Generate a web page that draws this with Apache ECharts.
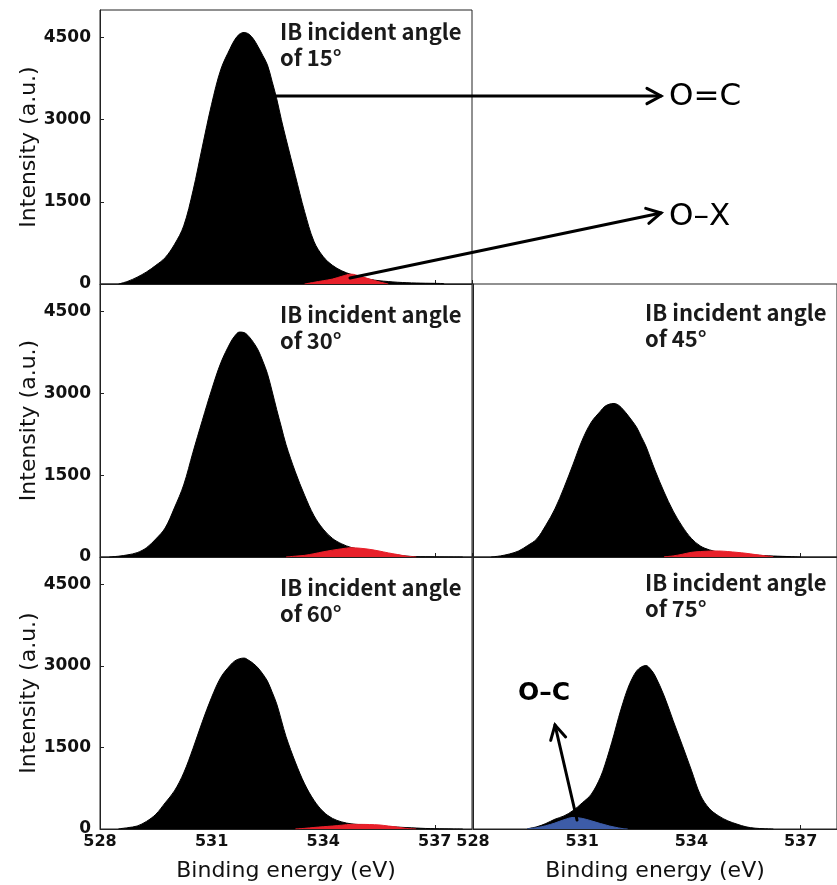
<!DOCTYPE html>
<html>
<head>
<meta charset="utf-8">
<script src="https://cdn.jsdelivr.net/npm/echarts@6/dist/echarts.min.js"></script>
<style>
html,body{margin:0;padding:0;background:#fff;}
#main{width:837px;height:885px;}
</style>
</head>
<body>
<div id="main"></div>
<script>
// Binding energy grid (eV): 0.25 eV steps, 0.125 eV steps around the main peaks
const energy = [528.00, 528.25, 528.50, 528.75, 529.00, 529.25, 529.50, 529.75,
  530.00, 530.25, 530.50, 530.75, 531.00, 531.25,
  531.50, 531.625, 531.75, 531.875, 532.00, 532.125, 532.25, 532.375, 532.50, 532.625, 532.75, 532.875,
  533.00, 533.25, 533.50, 533.75, 534.00, 534.25, 534.50, 534.75, 535.00, 535.25,
  535.50, 535.75, 536.00, 536.25, 536.50, 536.75, 537.00, 537.25, 537.50, 537.75];

// Envelope (O=C dominant) intensities per incident angle
const env15 = [null, null, 0, 50, 125, 220, 340, 480, 720, 1060, 1700, 2500, 3280, 3920,
  4300, 4460, 4560, 4590, 4560, 4470, 4330, 4170, 4000, 3700, 3380, 3000,
  2650, 1980, 1320, 780, 500, 340, 240, 175, 125, 85, 60, 45, 32, 24, 18, 14, 12, 8, null, null];
const env30 = [null, 0, 15, 40, 80, 170, 330, 530, 900, 1320, 1920, 2500, 3060, 3560,
  3920, 4050, 4120, 4110, 4040, 3930, 3790, 3590, 3360, 3040, 2700, 2380,
  2060, 1560, 1130, 760, 510, 340, 240, 175, 140, 110, 85, 55, 35, 16, 6, 3, 2, 1, 0, 0];
const env45 = [null, null, 0, 20, 55, 110, 210, 330, 580, 880, 1270, 1700, 2140, 2470,
  2670, 2760, 2800, 2812, 2780, 2700, 2600, 2490, 2370, 2200, 2030, 1810,
  1590, 1190, 840, 560, 340, 200, 130, 90, 70, 55, 42, 34, 26, 18, 12, 6, 0, null, null, null];
const env60 = [null, null, 3, 25, 55, 140, 270, 480, 700, 1030, 1480, 1970, 2420, 2790,
  3010, 3090, 3130, 3142, 3100, 3040, 2960, 2850, 2720, 2520, 2300, 2000,
  1700, 1230, 830, 530, 320, 195, 130, 95, 80, 66, 55, 45, 35, 26, 18, 10, 6, 3, 1, 0];
const env75 = [null, null, null, null, null, null, 5, 40, 100, 180, 240, 340, 480, 640,
  950, 1180, 1450, 1740, 2050, 2330, 2580, 2770, 2910, 2980, 3005, 2940,
  2820, 2450, 1990, 1540, 1080, 620, 370, 240, 150, 90, 40, 15, 5, 0, null, null, null, null, null, null];

// O-X component (red)
const ox15 = [null, null, null, null, null, null, null, null, null, null, null, null, null, null,
  null, null, null, null, null, null, null, null, null, null, null, null,
  null, null, 0, 30, 60, 90, 140, 180, 140, 90, 40, 0, null, null, null, null, null, null, null, null];
const ox30 = [null, null, null, null, null, null, null, null, null, null, null, null, null, null,
  null, null, null, null, null, null, null, null, null, null, null, null,
  0, 15, 30, 60, 95, 125, 150, 170, 160, 140, 110, 75, 45, 15, 0, null, null, null, null, null];
const ox45 = [null, null, null, null, null, null, null, null, null, null, null, null, null, null,
  null, null, null, null, null, null, null, null, null, null, null, null,
  null, 4, 20, 50, 85, 100, 108, 110, 100, 85, 68, 45, 25, 5, null, null, null, null, null, null];
const ox60 = [null, null, null, null, null, null, null, null, null, null, null, null, null, null,
  null, null, null, null, null, null, null, null, null, null, null, null,
  null, 0, 12, 28, 42, 55, 70, 85, 85, 82, 75, 55, 35, 10, 0, null, null, null, null, null];
// O-C component (blue), 75 deg
const oc75 = [null, null, null, null, null, null, 5, 25, 60, 110, 170, 212, 195, 150,
  100, 78, 55, 37, 20, 5, 0, null, null, null, null, null,
  null, null, null, null, null, null, null, null, null, null, null, null, null, null, null, null, null, null, null, null];

const xTicks = [528, 531, 534, 537];
const yTicks = [0, 1500, 3000, 4500];
const panelLabels = ['IB incident angle\nof 15°', 'IB incident angle\nof 30°', 'IB incident angle\nof 45°',
  'IB incident angle\nof 60°', 'IB incident angle\nof 75°'];

const chart = echarts.init(document.getElementById('main'), null, {renderer: 'canvas'});

const pairs = v => energy.map((e, i) => [e, v[i]]);

const grids = [
  {left: 100, top: 10, width: 372, height: 274},
  {left: 100, top: 284, width: 372, height: 273},
  {left: 473, top: 284, width: 372, height: 273},
  {left: 100, top: 557, width: 372, height: 272},
  {left: 473, top: 557, width: 372, height: 272}
].map(g => Object.assign({show: true, borderColor: '#222', borderWidth: 1, containLabel: false}, g));

const isBottom = [false, false, false, true, true];
const isLeft = [true, true, false, true, false];

const xAxes = grids.map((g, i) => ({
  type: 'value', gridIndex: i, min: 528, max: 538, interval: 3,
  axisLine: {show: true, onZero: false, lineStyle: {color: '#222', width: 1}},
  axisTick: {show: true, inside: true, length: 4, lineStyle: {color: '#222'}},
  splitLine: {show: false},
  axisLabel: {show: isBottom[i], showMaxLabel: false, margin: 5,
    formatter: v => (xTicks.indexOf(v) >= 0 ? String(v) : ''),
    fontFamily: 'DejaVu Sans', fontWeight: 'bold', fontSize: 16, color: '#111'},
  name: isBottom[i] ? 'Binding energy (eV)' : '',
  nameLocation: 'middle', nameGap: 31,
  nameTextStyle: {fontFamily: 'DejaVu Sans', fontSize: 22, color: '#111'}
}));

const yAxes = grids.map((g, i) => ({
  type: 'value', gridIndex: i, min: 0, max: 5000, interval: 1500,
  axisLine: {show: true, lineStyle: {color: '#222', width: 1}},
  axisTick: {show: isLeft[i], inside: true, length: 4, lineStyle: {color: '#222'}},
  splitLine: {show: false},
  axisLabel: {show: isLeft[i], showMaxLabel: false, margin: 9,
    formatter: v => (yTicks.indexOf(v) >= 0 ? String(v) : ''),
    fontFamily: 'DejaVu Sans', fontWeight: 'bold', fontSize: 17, color: '#111'},
  name: isLeft[i] ? 'Intensity (a.u.)' : '',
  nameLocation: 'middle', nameGap: 60,
  nameTextStyle: {fontFamily: 'DejaVu Sans', fontSize: 22, color: '#111'}
}));

function area(data, idx, color, z) {
  return {
    type: 'line', xAxisIndex: idx, yAxisIndex: idx, data: pairs(data),
    showSymbol: false, symbol: 'none', smooth: 0.35, z: z, silent: true,
    lineStyle: {color: color, width: 1},
    areaStyle: {color: color, opacity: 1}
  };
}

const BLACK = '#000000', RED = '#e8202a', BLUE = '#3d5ca8';
const series = [
  area(env15, 0, BLACK, 2), area(ox15, 0, RED, 3),
  area(env30, 1, BLACK, 2), area(ox30, 1, RED, 3),
  area(env45, 2, BLACK, 2), area(ox45, 2, RED, 3),
  area(env60, 3, BLACK, 2), area(ox60, 3, RED, 3),
  area(env75, 4, BLACK, 2), area(oc75, 4, BLUE, 3)
];

function arrow(x1, y1, x2, y2, w) {
  const ang = Math.atan2(y2 - y1, x2 - x1);
  const L = 16, a = 0.5;
  const p1 = [x2 - L * Math.cos(ang - a), y2 - L * Math.sin(ang - a)];
  const p2 = [x2 - L * Math.cos(ang + a), y2 - L * Math.sin(ang + a)];
  return [
    {type: 'line', z: 100, shape: {x1: x1, y1: y1, x2: x2, y2: y2},
      style: {stroke: '#000', lineWidth: w, lineCap: 'round'}},
    {type: 'polyline', z: 100, shape: {points: [p1, [x2, y2], p2]},
      style: {stroke: '#000', lineWidth: w, fill: null, lineCap: 'round', lineJoin: 'miter'}}
  ];
}

const labelPos = [[280, 19], [280, 302], [645, 300], [280, 575], [645, 570]];
const graphics = [];
panelLabels.forEach((t, i) => {
  graphics.push({type: 'text', z: 100, x: labelPos[i][0], y: labelPos[i][1],
    style: {text: t, fontFamily: '"Noto Sans CJK KR"', fontWeight: 'bold', fontSize: 22,
      lineHeight: 26, fill: '#1a1a1a', verticalAlign: 'top', align: 'left'}});
});
graphics.push({type: 'text', z: 100, x: 669, y: 97,
  style: {text: 'O=C', fontFamily: 'DejaVu Sans', fontSize: 31, fill: '#000', verticalAlign: 'middle'}});
graphics.push({type: 'text', z: 100, x: 669, y: 217,
  style: {text: 'O–X', fontFamily: 'DejaVu Sans', fontSize: 31, fill: '#000', verticalAlign: 'middle'}});
graphics.push({type: 'text', z: 100, x: 518, y: 693,
  style: {text: 'O–C', fontFamily: 'DejaVu Sans', fontWeight: 'bold', fontSize: 25, fill: '#000', verticalAlign: 'middle'}});
graphics.push(...arrow(273, 96, 661, 96, 3));
graphics.push(...arrow(350, 278, 661, 213, 3));
graphics.push(...arrow(577, 820, 555, 725, 3));

chart.setOption({
  animation: false,
  backgroundColor: '#ffffff',
  grid: grids,
  xAxis: xAxes,
  yAxis: yAxes,
  series: series,
  graphic: graphics
});
</script>
</body>
</html>
